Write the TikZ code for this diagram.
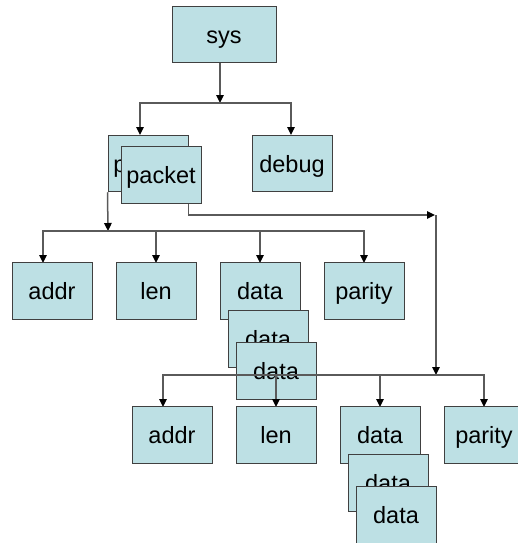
\documentclass[tikz,border=0pt]{standalone}
\usepackage{fontspec}
\setmainfont{Liberation Sans}
\usetikzlibrary{arrows.meta}
\definecolor{boxfill}{RGB}{189,224,228}
\definecolor{boxline}{RGB}{64,64,64}
\definecolor{wire}{RGB}{90,90,90}
\tikzset{
  blk/.style={draw=boxline, line width=1pt, fill=boxfill, inner sep=0pt,
    minimum width=80pt, minimum height=56.5pt,
    font=\fontsize{23.5}{26}\selectfont, text height=17pt, text depth=0pt},
  conn/.style={draw=wire, line width=1.5pt,
    -{Triangle[length=8pt,width=7.5pt,fill=black,color=black]}},
  wire/.style={draw=wire, line width=1.5pt},
}
\begin{document}
\begin{tikzpicture}[x=1pt,y=-1pt]
\useasboundingbox (0,0) rectangle (517,543);

% ---- root and its two children
\node[blk, minimum width=104pt, minimum height=56pt] (sys) at (224,35) {sys};
\coordinate (j0) at (220,103);
\draw[conn] (sys.south -| j0) -- (j0);
\coordinate (pkin) at (140,135);
\coordinate (dbgin) at (291,135);
\draw[conn] (j0) -| (pkin);
\draw[conn] (j0) -| (dbgin);

\node[blk] (packetA) at (148,163.5) {packet};
\node[blk] (packetB) at (161,175) {packet};
\node[blk] (debug) at (292,163.5) {debug};

% ---- first packet: its fields
\coordinate (j1) at (108,231);
\draw[conn] (packetA.south west) -- (j1);
\coordinate (addrin) at (43,263);
\draw[conn] (j1) -| (addrin);
\draw[conn] (j1) -| (156,263) coordinate (lenin);
\draw[conn] (j1) -| (260,263) coordinate (datain);
\draw[conn] (j1) -| (364,263) coordinate (parin);

\node[blk] (addr) at (52,291) {addr};
\node[blk] (len) at (156,291) {len};
\node[blk] (dataA) at (260,291) {data};
\node[blk] (parity) at (364,291) {parity};
\node[blk] (dataB) at (268,339) {data};
\node[blk] (dataC) at (276,371) {data};

% ---- second packet: its fields
\coordinate (j2) at (436,215);
\draw[conn] ([xshift=-13pt]packetB.south east) |- ([xshift=-1pt]j2);
\coordinate (j3) at (436,375);
\draw[conn] (j2) -- (j3);
\coordinate (addrin2) at (163,407);
\draw[conn] (j3) -| (addrin2);
\draw[conn] (j3) -| (276,407) coordinate (lenin2);
\draw[conn] (j3) -| (380,407) coordinate (datain2);
\draw[conn] (j3) -| (484,407) coordinate (parin2);

\node[blk] (addr2) at (172,435) {addr};
\node[blk] (len2) at (276,435) {len};
\node[blk] (dataA2) at (380,435) {data};
\node[blk] (parity2) at (484,435) {parity};
\node[blk] (dataB2) at (388,483) {data};
\node[blk] (dataC2) at (396,515) {data};
\end{tikzpicture}
\end{document}
